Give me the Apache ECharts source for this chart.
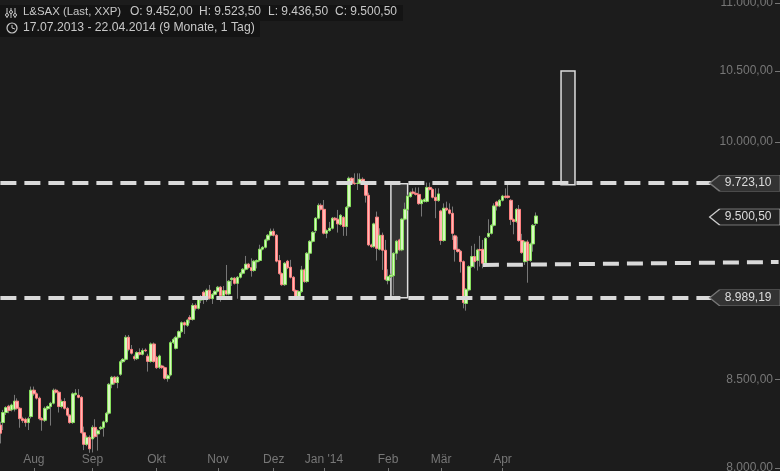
<!DOCTYPE html>
<html>
<head>
<meta charset="utf-8">
<script src="https://cdn.jsdelivr.net/npm/echarts@6/dist/echarts.min.js"></script>
<style>
html, body { margin: 0; padding: 0; background: #1c1c1c; }
#chart { width: 780px; height: 471px; }
</style>
</head>
<body>
<div id="chart"></div>
<script>
// Daily candles, 17.07.2013 - 22.04.2014
const opens = [
    8233,8247,8304,8340,8319,8323,8369,8328,8269,8266,
    8247,8281,8432,8411,8386,8269,8260,8326,8338,8357,
    8432,8420,8338,8367,8328,8289,8247,8407,8403,8391,
    8190,8125,8164,8155,8220,8183,8213,8220,8251,8300,
    8466,8507,8476,8524,8598,8612,8743,8671,8628,8616,
    8652,8642,8667,8630,8600,8703,8624,8565,8573,8563,
    8499,8520,8711,8677,8743,8777,8831,8815,8863,8851,
    8936,8918,8969,9017,8979,9029,8977,9004,9023,9048,
    8996,9027,9006,9095,9104,9072,9110,9135,9160,9192,
    9171,9152,9207,9215,9287,9299,9346,9376,9401,9376,
    9215,9133,9064,9211,9173,9110,9027,8989,9021,9156,
    9083,9261,9337,9406,9486,9570,9544,9389,9406,9421,
    9486,9479,9445,9492,9432,9561,9749,9716,9714,9716,
    9742,9712,9636,9314,9303,9493,9286,9376,9280,9089,
    9114,9120,9261,9346,9282,9480,9544,9627,9658,9649,
    9642,9581,9596,9596,9688,9675,9623,9601,9533,9342,
    9551,9540,9518,9372,9286,9274,9208,8948,9031,9177,
    9240,9215,9284,9286,9198,9367,9388,9440,9592,9566,
    9603,9631,9631,9603,9477,9464,9544,9342,9208,9333,
    9215,9320,9452
];
const closes = [
    8187,8304,8332,8315,8347,8369,8328,8269,8258,8247,
    8269,8432,8411,8386,8269,8262,8328,8338,8357,8432,
    8420,8338,8367,8328,8289,8247,8411,8415,8391,8190,
    8125,8164,8100,8220,8168,8201,8220,8251,8300,8466,
    8507,8476,8507,8598,8612,8743,8671,8648,8616,8652,
    8642,8664,8662,8600,8703,8600,8563,8632,8563,8501,
    8516,8711,8731,8743,8777,8831,8817,8847,8851,8936,
    8918,8973,8975,8983,9029,8979,9004,9023,9048,8996,
    9027,9006,9085,9104,9072,9110,9135,9160,9192,9171,
    9152,9211,9215,9287,9299,9346,9376,9401,9376,9211,
    9133,9064,9198,9169,9110,9027,8989,9021,9156,9083,
    9261,9337,9395,9486,9570,9544,9389,9406,9421,9486,
    9475,9449,9505,9432,9557,9749,9716,9712,9716,9742,
    9712,9636,9314,9303,9449,9292,9376,9280,9097,9114,
    9124,9261,9338,9282,9480,9544,9631,9653,9649,9642,
    9581,9605,9609,9688,9675,9623,9601,9645,9342,9551,
    9540,9518,9388,9286,9272,9208,8953,9035,9177,9240,
    9208,9282,9280,9198,9356,9388,9440,9566,9566,9603,
    9631,9622,9622,9477,9464,9544,9342,9265,9333,9215,
    9320,9440,9500.5
];
const lows = [
    8130,8205,8290,8300,8310,8310,8320,8218,8245,8224,
    8205,8270,8400,8378,8260,8201,8250,8318,8230,8350,
    8412,8304,8328,8320,8280,8240,8240,8400,8385,8185,
    8093,8115,8078,8080,8160,8090,8205,8168,8244,8292,
    8443,8465,8443,8515,8590,8604,8660,8640,8604,8608,
    8635,8635,8655,8540,8592,8592,8555,8555,8555,8493,
    8481,8512,8703,8670,8735,8770,8763,8805,8827,8843,
    8905,8910,8950,8945,8959,8970,8945,8997,9015,8959,
    8988,8998,8998,9056,9064,8977,9102,9127,9152,9163,
    9114,9144,9165,9207,9279,9291,9338,9368,9368,9203,
    9125,9056,9056,9161,9102,9019,8981,8981,9013,9075,
    9075,9219,9329,9389,9478,9536,9381,9357,9398,9413,
    9467,9393,9437,9372,9372,9550,9708,9705,9671,9708,
    9705,9588,9306,9295,9295,9215,9278,9156,9089,9066,
    9106,8999,9219,9274,9274,9472,9536,9620,9640,9634,
    9573,9497,9588,9588,9667,9615,9486,9593,9314,9334,
    9532,9510,9346,9208,9264,9139,8918,8904,9023,9169,
    9166,9152,9177,9166,9190,9359,9380,9432,9536,9558,
    9595,9614,9614,9442,9382,9456,9334,9257,9187,9076,
    9207,9271,9436.5
];
const highs = [
    8252,8319,8340,8348,8355,8405,8385,8335,8280,8275,
    8280,8453,8453,8420,8395,8278,8338,8345,8365,8442,
    8440,8428,8378,8386,8336,8295,8420,8438,8438,8398,
    8224,8175,8175,8232,8266,8210,8228,8258,8308,8474,
    8515,8515,8515,8608,8620,8757,8757,8697,8640,8660,
    8677,8677,8677,8645,8712,8712,8632,8640,8580,8570,
    8525,8720,8740,8752,8785,8839,8839,8855,8877,8950,
    8948,8990,9000,9027,9040,9062,9012,9031,9056,9056,
    9056,9187,9093,9112,9112,9118,9143,9168,9244,9200,
    9229,9219,9223,9315,9307,9354,9384,9419,9419,9384,
    9250,9141,9206,9219,9219,9118,9035,9029,9181,9164,
    9269,9345,9403,9494,9583,9583,9605,9414,9462,9494,
    9494,9540,9513,9500,9565,9760,9757,9782,9782,9782,
    9755,9720,9653,9322,9457,9529,9421,9393,9346,9160,
    9132,9269,9346,9354,9488,9588,9640,9662,9682,9688,
    9688,9613,9617,9720,9720,9683,9682,9682,9541,9583,
    9594,9583,9562,9380,9367,9282,9216,9043,9185,9308,
    9321,9290,9372,9346,9364,9479,9448,9583,9600,9611,
    9639,9682,9704,9611,9485,9552,9572,9385,9341,9346,
    9328,9448,9523.5
];

// Slots of the x axis: one band per trading day, plus empty room on the right
const slotCount = 280;
const monthNames = ['Aug', 'Sep', 'Okt', 'Nov', 'Dez', "Jan '14", 'Feb', 'Mär', 'Apr'];
const monthSlots = [12, 33, 56, 78, 98, 116, 139, 158, 180];

const priceTicks = [8000, 8500, 9000, 9500, 10000, 10500, 11000];

const supportLevel = 8989.19;
const resistanceLevel = 9723.10;
const lastPrice = 9500.50;
const shortLine = [[173, 9193], [279, 9212]];
const boxes = [
    [140.3, 9719, 146.3, 8989],
    [200.5, 10500, 206.2, 9712]
];

// the candle readings came out about a pixel low against the labelled levels
const readFix = 1.0007;

const headerItems = [
    [23, 'L&SAX (Last, XXP)', 11.4],
    [130, 'O: 9.452,00', 12],
    [199, 'H: 9.523,50', 12],
    [268, 'L: 9.436,50', 12],
    [335, 'C: 9.500,50', 12]
];
const dateRange = '17.07.2013 - 22.04.2014 (9 Monate, 1 Tag)';

const BG = '#1c1c1c';
const UP_EDGE = '#86e05c';
const UP_FILL = '#d8f8c0';
const DOWN_EDGE = '#ff8080';
const DOWN_FILL = '#ffb8b4';
const WICK = '#777777';
const AXIS_TEXT = '#777777';
const HEAD_TEXT = '#c8c8c8';
const DASH = '#d9d9d9';

function price(v) {
    return v.toLocaleString('de-DE', { minimumFractionDigits: 2, maximumFractionDigits: 2 });
}

const categories = [];
for (let i = 0; i < slotCount; i++) {
    const m = monthSlots.indexOf(i);
    categories.push(m >= 0 ? monthNames[m] : '');
}

const wickData = opens.map((o, i) => {
    const lo = lows[i] * readFix;
    const hi = highs[i] * readFix;
    return [lo, hi, lo, hi];
});
const bodyData = opens.map((o, i) => {
    const op = o * readFix;
    const cl = closes[i] * readFix;
    return [op, cl, Math.min(op, cl), Math.max(op, cl)];
});

function dashed(v) {
    return [{ coord: [0, v] }, { coord: [262, v] }];
}

function tag(v, fill, edge) {
    return {
        coord: [267, v],
        value: price(v),
        symbol: 'path://M0,8 L10,0 L71,0 L71,16 L10,16 Z',
        symbolSize: [71, 16],
        itemStyle: { color: fill, borderColor: edge, borderWidth: 1 },
        label: {
            show: true, position: 'inside', offset: [3, 0],
            formatter: price(v), fontSize: 12, color: '#dddddd',
            fontFamily: 'Liberation Sans'
        }
    };
}

const header = [
    { type: 'rect', shape: { x: 0, y: 5, width: 403, height: 16 }, style: { fill: '#141414' } },
    { type: 'rect', shape: { x: 0, y: 21, width: 260, height: 16 }, style: { fill: '#141414' } }
];
headerItems.forEach(item => {
    header.push({
        type: 'text', x: item[0], y: 12,
        style: { text: item[1], fill: HEAD_TEXT, font: item[2] + 'px "Liberation Sans"', textVerticalAlign: 'middle' }
    });
});
header.push({
    type: 'text', x: 23, y: 28,
    style: { text: dateRange, fill: HEAD_TEXT, font: '12.2px "Liberation Sans"', textVerticalAlign: 'middle' }
});
// mixer icon
[[7, 15], [11, 12], [15, 15]].forEach(p => {
    header.push({ type: 'line', shape: { x1: p[0], y1: 8, x2: p[0], y2: 18 }, style: { stroke: HEAD_TEXT, lineWidth: 1 } });
    header.push({ type: 'circle', shape: { cx: p[0], cy: p[1], r: 1.5 }, style: { fill: '#141414', stroke: HEAD_TEXT, lineWidth: 1 } });
});
// clock icon
header.push({ type: 'circle', shape: { cx: 12, cy: 28, r: 5 }, style: { fill: 'none', stroke: HEAD_TEXT, lineWidth: 1.2 } });
header.push({ type: 'polyline', shape: { points: [[12, 25], [12, 28], [15, 29]] }, style: { fill: 'none', stroke: HEAD_TEXT, lineWidth: 1 } });

const chart = echarts.init(document.getElementById('chart'));
chart.setOption({
    animation: false,
    backgroundColor: BG,
    // the labels sit half outside on purpose, so no shrinking of the grid
    grid: { left: -1, right: 0, top: 3, bottom: 3, outerBoundsMode: 'none' },
    xAxis: {
        type: 'category',
        data: categories,
        boundaryGap: true,
        axisLine: { show: false },
        axisTick: {
            show: true, length: 5, inside: false, alignWithLabel: true,
            interval: (i, name) => name !== '',
            lineStyle: { color: AXIS_TEXT }
        },
        axisLabel: {
            show: true, inside: true, interval: 0, margin: 2, hideOverlap: false,
            fontSize: 12, color: AXIS_TEXT, fontFamily: 'Liberation Sans'
        },
        splitLine: { show: false }
    },
    yAxis: {
        type: 'log',
        logBase: 10,
        min: 8000,
        max: 11000,
        position: 'right',
        axisLine: { show: false },
        axisTick: {
            show: true, inside: true, length: 5, customValues: priceTicks,
            lineStyle: { color: AXIS_TEXT }
        },
        axisLabel: {
            show: true, inside: true, margin: 7, customValues: priceTicks,
            hideOverlap: false, showMinLabel: true, showMaxLabel: true,
            verticalAlignMinLabel: 'middle', verticalAlignMaxLabel: 'middle',
            fontSize: 12, color: AXIS_TEXT, fontFamily: 'Liberation Sans',
            formatter: v => price(v)
        },
        splitLine: { show: false }
    },
    graphic: { elements: header },
    series: [
        {
            type: 'candlestick',
            name: 'wicks',
            data: wickData,
            barWidth: 1,
            silent: true,
            z: 2,
            itemStyle: { color: WICK, color0: WICK, borderColor: WICK, borderColor0: WICK, borderWidth: 1 }
        },
        {
            type: 'candlestick',
            name: 'L&SAX',
            data: bodyData,
            barWidth: 3,
            silent: true,
            z: 3,
            itemStyle: {
                color: UP_FILL, color0: DOWN_FILL,
                borderColor: UP_EDGE, borderColor0: DOWN_EDGE, borderWidth: 1
            },
            markArea: {
                silent: true,
                itemStyle: {
                    color: 'rgba(255,255,255,0.1)', borderColor: '#dddddd', borderWidth: 1.5
                },
                data: boxes.map(b => [{ coord: [b[0], b[1]] }, { coord: [b[2], b[3]] }])
            },
            markLine: {
                silent: true,
                symbol: 'none',
                animation: false,
                label: { show: false },
                lineStyle: { type: [16, 8], width: 4, color: DASH, opacity: 1 },
                data: [
                    dashed(resistanceLevel),
                    dashed(supportLevel),
                    [{ coord: shortLine[0] }, { coord: shortLine[1] }]
                ]
            },
            markPoint: {
                silent: true,
                animation: false,
                data: [
                    tag(resistanceLevel, '#333333', '#777777'),
                    tag(lastPrice, '#222222', '#cccccc'),
                    tag(supportLevel, '#333333', '#777777')
                ]
            }
        }
    ]
});
</script>
</body>
</html>
